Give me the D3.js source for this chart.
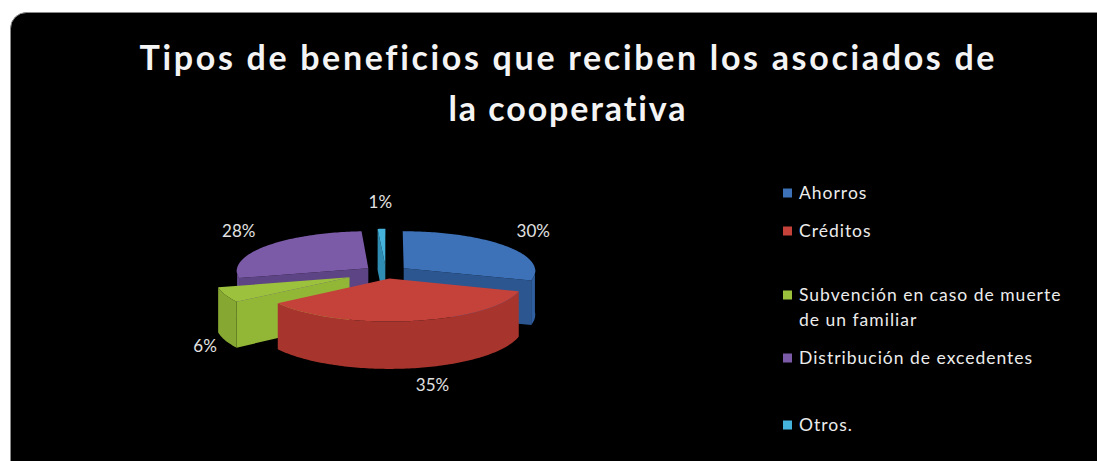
<!DOCTYPE html>
<html>
<head>
<meta charset="utf-8">
<script src="https://cdn.jsdelivr.net/npm/d3@7"></script>
<style>
  html, body { margin: 0; padding: 0; background: #ffffff; }
  svg { display: block; }
  text { font-variant-ligatures: none; }
</style>
</head>
<body>
<svg id="chart" width="1097" height="461"></svg>
<script>
// Benefit types received by the cooperative's members (percent of answers)
const categories = ["Ahorros", "Créditos", "Subvención en caso de muerte de un familiar", "Distribución de excedentes", "Otros."];
const values = [30, 35, 6, 28, 1];
const legendLines = [["Ahorros"], ["Créditos"], ["Subvención en caso de muerte", "de un familiar"], ["Distribución de excedentes"], ["Otros."]];
const titleLines = ["Tipos de beneficios que reciben los asociados de", "la cooperativa"];

// top-face / side colours of each slice
const topColors  = ["#3d71b8", "#c4423a", "#9cc13c", "#7b5aa8", "#45b2dc"];
const sideColors = ["#2f5f9f", "#a8352d", "#86a832", "#654a8e", "#3798be"];
const wallColors = ["#2b5690", "#b23a32", "#92b737", "#5d4484", "#2f8db3"];
// how far each slice is pulled out from the centre
const explodeBy  = [22, 22, 40, 22, 22];

const W = 1097, H = 461;
const svg = d3.select("#chart");

// black chart area with rounded corners
svg.append("rect")
  .attr("x", 10.5).attr("y", 12.5)
  .attr("width", 1110).attr("height", 470)
  .attr("rx", 16).attr("ry", 16)
  .attr("fill", "#000")
  .attr("stroke", "#8a8a8a").attr("stroke-width", 1);

// title
const title = svg.append("g").attr("font-family", "Lato, 'Open Sans', sans-serif")
  .attr("font-weight", 700).attr("font-size", 34).attr("fill", "#f4f4f4")
  .attr("text-anchor", "middle");
const titleWidths = [855, 237];
const titleBase = [70, 121];
titleLines.forEach((t, i) => {
  title.append("text")
    .attr("x", 567).attr("y", titleBase[i])
    .attr("textLength", titleWidths[i]).attr("lengthAdjust", "spacing")
    .text(t);
});

// ---- 3D exploded pie ----
const cx = 386, cy = 272;      // centre of the top face
const R = 132;                 // radius
const k = 0.30;                // vertical squash of the disc
const h = 44;                  // thickness
const D = 2200;                // mild perspective distance

const pie = d3.pie().sort(null).startAngle(0).endAngle(2 * Math.PI).value(d => d);
const arcs = pie(values).map((a, i) => ({...a, i, mid: (a.startAngle + a.endAngle) / 2}));

function proj(X, Z, y) {
  const s = D / (D + Z);
  return [cx + X * s, cy - Z * k * s + y * s];
}
function rim(a, ang, r, y) {
  const e = explodeBy[a.i];
  const ex = e * Math.sin(a.mid), ez = e * Math.cos(a.mid);
  return proj(r * Math.sin(ang) + ex, r * Math.cos(ang) + ez, y);
}
function arcPts(a, a0, a1, y) {
  const n = Math.max(2, Math.ceil((a1 - a0) / 0.02));
  return d3.range(n + 1).map(j => rim(a, a0 + (a1 - a0) * j / n, R, y));
}
const line = d3.line().curve(d3.curveLinearClosed);

const pieG = svg.append("g");
// paint from back to front
const order = arcs.slice().sort((p, q) => Math.cos(q.mid) - Math.cos(p.mid));

order.forEach(a => {
  const g = pieG.append("g");
  const c0 = rim(a, 0, 0, 0), c1 = rim(a, 0, 0, h);
  // radial walls facing the viewer
  if (Math.sin(a.startAngle) < -1e-6) {
    g.append("path").attr("d", line([c0, rim(a, a.startAngle, R, 0), rim(a, a.startAngle, R, h), c1]))
      .attr("fill", wallColors[a.i]);
  }
  if (Math.sin(a.endAngle) > 1e-6) {
    g.append("path").attr("d", line([c0, rim(a, a.endAngle, R, 0), rim(a, a.endAngle, R, h), c1]))
      .attr("fill", wallColors[a.i]);
  }
  // outer wall (front half only)
  const f0 = Math.max(a.startAngle, Math.PI / 2), f1 = Math.min(a.endAngle, 3 * Math.PI / 2);
  if (f1 > f0) {
    const topPts = arcPts(a, f0, f1, 0);
    const botPts = arcPts(a, f0, f1, h).reverse();
    g.append("path").attr("d", line(topPts.concat(botPts))).attr("fill", sideColors[a.i]);
  }
  // top face
  g.append("path").attr("d", line([c0].concat(arcPts(a, a.startAngle, a.endAngle, 0))))
    .attr("fill", topColors[a.i]);
});

// percentage labels, placed outside each slice
const total = d3.sum(values);
const fmt = d3.format(".0%");
const labG = svg.append("g").attr("font-family", "Lato, 'Open Sans', sans-serif")
  .attr("font-size", 17).attr("fill", "#e2e2e2").attr("text-anchor", "middle");
arcs.forEach(a => {
  const lx = cx + (160 + explodeBy[a.i]) * Math.sin(a.mid) + (Math.cos(a.mid) < -0.9 ? 18 : 0);
  const ly = cy - 70 * Math.cos(a.mid) + (Math.cos(a.mid) < 0 ? h : 0);
  labG.append("text").attr("x", lx).attr("y", ly).attr("dy", "0.35em")
    .text(fmt(a.value / total));
});

// legend
const legendY = [193, 231, 295, 358, 425];
const legG = svg.append("g").attr("font-family", "Lato, 'Open Sans', sans-serif")
  .attr("font-size", 17.5).attr("fill", "#ececec").attr("letter-spacing", 1);
legendLines.forEach((lines, i) => {
  legG.append("rect").attr("x", 783).attr("y", legendY[i] - 4.5)
    .attr("width", 9).attr("height", 9).attr("fill", topColors[i]);
  lines.forEach((t, j) => {
    legG.append("text").attr("x", 799).attr("y", legendY[i] + j * 25).attr("dy", "0.36em").text(t);
  });
});
</script>
</body>
</html>
